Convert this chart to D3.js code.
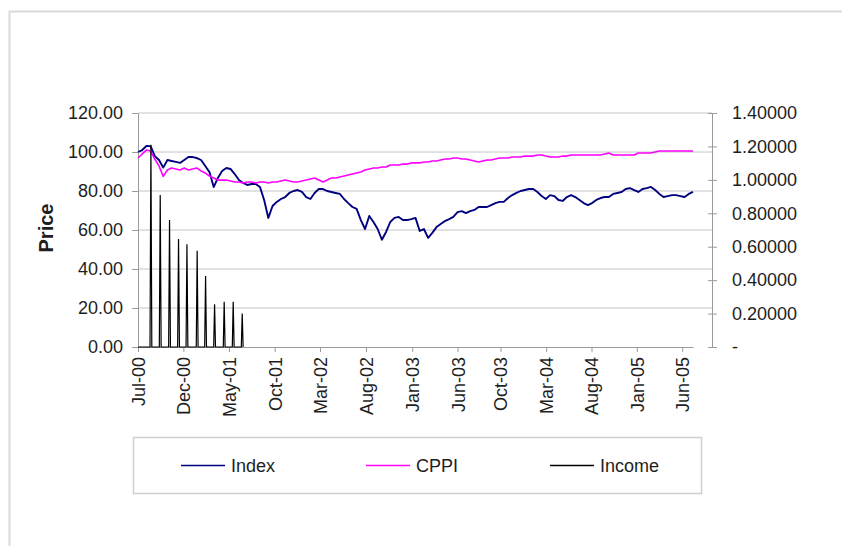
<!DOCTYPE html>
<html>
<head>
<meta charset="utf-8">
<script src="https://cdn.jsdelivr.net/npm/d3@7"></script>
<style>
  body { margin: 0; background: #fff; }
  svg { display: block; font-family: "Liberation Sans", Arial, sans-serif; }
</style>
</head>
<body>
<svg id="chart" width="842" height="546"></svg>
<script>
// fortnightly closes
const startDate = '2000-07-03';
const axisEndDate = '2005-07-25';
const stepDays = 14;

const indexValues = [
  100.0, 101.0, 103.1, 103.0, 97.9, 95.9, 92.0, 95.9, 95.4, 94.9,
  94.4, 95.9, 97.4, 97.4, 96.9, 95.9, 92.8, 89.7, 82.0, 86.7,
  90.3, 91.8, 91.3, 88.7, 85.6, 84.1, 83.1, 83.6, 83.6, 82.1,
  75.4, 66.2, 72.3, 74.4, 75.9, 76.9, 79.0, 80.0, 80.5, 79.5,
  76.9, 75.9, 79.0, 81.0, 81.0, 80.0, 79.5, 79.0, 78.5, 75.9,
  73.8, 71.8, 70.8, 65.1, 60.5, 67.2, 64.1, 60.5, 55.0, 59.0,
  64.1, 66.2, 66.7, 65.1, 65.1, 65.6, 66.2, 59.5, 60.5, 56.0,
  58.5, 61.5, 63.1, 64.6, 65.6, 66.7, 69.2, 69.7, 68.7, 69.7,
  70.3, 71.8, 71.8, 71.8, 72.8, 73.8, 74.4, 74.4, 76.4, 77.9,
  79.0, 80.0, 80.5, 81.0, 81.0, 79.5, 77.4, 75.9, 77.9, 77.4,
  75.4, 74.9, 76.9, 77.9, 76.9, 75.4, 73.8, 72.8, 73.8, 75.4,
  76.4, 76.9, 76.9, 78.5, 79.0, 79.5, 81.0, 81.5, 80.5, 79.5,
  81.0, 81.5, 82.1, 80.5, 78.5, 76.9, 77.4, 77.9, 77.9, 77.4,
  76.9, 78.5, 79.5
];

const cppiValues = [
  96.9, 99.0, 101.0, 100.5, 96.4, 92.8, 87.5, 90.8, 91.8, 91.3,
  90.8, 91.8, 90.8, 91.3, 91.8, 90.3, 89.2, 87.7, 86.7, 85.6,
  85.6, 85.6, 85.1, 84.6, 84.6, 84.1, 84.6, 84.6, 84.1, 84.6,
  84.6, 84.1, 84.6, 84.6, 85.1, 85.6, 85.1, 84.6, 84.6, 85.1,
  85.6, 86.2, 86.7, 85.6, 84.6, 85.6, 86.7, 86.7, 87.2, 87.7,
  88.2, 88.7, 89.2, 89.7, 90.8, 91.3, 91.8, 91.8, 92.3, 92.3,
  93.3, 93.3, 93.3, 93.8, 93.8, 94.4, 94.4, 94.4, 94.9, 94.9,
  95.4, 95.4, 95.9, 96.4, 96.4, 96.9, 96.9, 96.4, 96.4, 95.9,
  95.4, 94.9, 95.4, 95.9, 95.9, 96.4, 96.9, 96.9, 96.9, 97.4,
  97.4, 97.4, 97.9, 97.9, 97.9, 98.5, 98.5, 97.9, 97.4, 97.4,
  97.4, 97.9, 97.9, 98.5, 98.5, 98.5, 98.5, 98.5, 98.5, 98.5,
  98.5, 99.0, 99.5, 98.5, 98.5, 98.5, 98.5, 98.5, 98.5, 99.5,
  99.5, 99.5, 99.5, 100.0, 100.5, 100.5, 100.5, 100.5, 100.5, 100.5,
  100.5, 100.5, 100.5
];

const incomeDates = [
  '2000-08-15', '2000-09-15', '2000-10-16', '2000-11-15', '2000-12-13', '2001-01-16',
  '2001-02-13', '2001-03-15', '2001-04-16', '2001-05-16', '2001-06-15'
];
const incomeValues = [1.21, 0.91, 0.76, 0.646, 0.615, 0.576, 0.425, 0.255, 0.271, 0.271, 0.20];

const tickDates = [
  '2000-07-03', '2000-12-01', '2001-05-02', '2001-10-01', '2002-03-01', '2002-08-01', '2003-01-02',
  '2003-06-02', '2003-10-23', '2004-03-23', '2004-08-21', '2005-01-19', '2005-06-19'
];
const leftTicks = [0, 20, 40, 60, 80, 100, 120];
const rightTicks = [0, 0.2, 0.4, 0.6, 0.8, 1.0, 1.2, 1.4];

const seriesNames = ['Index', 'CPPI', 'Income'];
const seriesColors = ['#000080', '#ff00ff', '#000000'];

const svg = d3.select('#chart');
const parseDate = d3.timeParse('%Y-%m-%d');
const start = parseDate(startDate);

const plot = { left: 138, dataRight: 693, right: 712, top: 113, bottom: 347 };
const font = 18;

// outer chart frame
svg.append('rect')
    .attr('x', 9.5)
    .attr('y', 11.5)
    .attr('width', 850)
    .attr('height', 560)
    .attr('fill', 'none')
    .attr('stroke', '#d9d9d9')
    .attr('stroke-width', 2);

const x = d3.scaleTime()
  .domain([start, parseDate(axisEndDate)])
  .range([plot.left, plot.dataRight]);

const yLeft = d3.scaleLinear()
  .domain([0, 120])
  .range([plot.bottom, plot.top]);

const yRight = d3.scaleLinear()
  .domain([0, 1.4])
  .range([plot.bottom, plot.top]);

// gridlines
svg.append('g')
    .attr('class', 'grid')
  .selectAll('line')
  .data(leftTicks.slice(1))
  .enter()
  .append('line')
    .attr('x1', plot.left)
    .attr('x2', plot.right)
    .attr('y1', d => yLeft(d))
    .attr('y2', d => yLeft(d))
    .attr('stroke', '#c4c4c4')
    .attr('stroke-width', 1);

function styleAxis(g) {
  g.select('.domain').attr('stroke', '#9a9a9a');
  g.selectAll('.tick line').attr('stroke', '#9a9a9a');
  g.selectAll('.tick text')
      .attr('fill', '#1e1e1e')
      .attr('font-size', font)
      .attr('font-family', '"Liberation Sans", Arial, sans-serif');
}

svg.append('g')
    .attr('class', 'axis axis--left')
    .attr('transform', `translate(${plot.left},0)`)
    .call(d3.axisLeft(yLeft)
      .tickValues(leftTicks)
      .tickFormat(d3.format('.2f'))
      .tickSizeInner(6)
      .tickSizeOuter(0)
      .tickPadding(9))
    .call(styleAxis);

const rightAxis = svg.append('g')
    .attr('class', 'axis axis--right')
    .attr('transform', `translate(${plot.right},0)`)
    .call(d3.axisRight(yRight)
      .tickValues(rightTicks)
      .tickFormat(d => (d === 0 ? '-' : d3.format('.5f')(d)))
      .tickSizeInner(5)
      .tickSizeOuter(0)
      .tickPadding(15))
    .call(styleAxis);
rightAxis.selectAll('.tick line').attr('x1', -4);

const xAxis = svg.append('g')
    .attr('class', 'axis axis--x')
    .attr('transform', `translate(0,${plot.bottom})`)
    .call(d3.axisBottom(x)
      .tickValues(tickDates.map(parseDate))
      .tickFormat(d3.timeFormat('%b-%y'))
      .tickSizeInner(5)
      .tickSizeOuter(0))
    .call(styleAxis);

xAxis.selectAll('.tick text')
    .attr('transform', 'rotate(-90)')
    .attr('x', -10)
    .attr('y', 0)
    .attr('dy', '0.36em')
    .attr('text-anchor', 'end');

// axis title
svg.append('text')
    .attr('transform', `translate(53,228) rotate(-90)`)
    .attr('text-anchor', 'middle')
    .attr('font-size', 20)
    .attr('font-weight', 'bold')
    .attr('fill', '#1e1e1e')
    .text('Price');

// series
const indexData = indexValues.map((v, i) => ({ date: d3.timeDay.offset(start, i * stepDays), value: v }));
const cppiData = cppiValues.map((v, i) => ({ date: d3.timeDay.offset(start, i * stepDays), value: v }));

const incomeData = [{ date: start, value: 0 }];
incomeDates.forEach((s, i) => {
  const d = parseDate(s);
  incomeData.push({ date: d3.timeDay.offset(d, -3), value: 0 });
  incomeData.push({ date: d, value: incomeValues[i] });
  incomeData.push({ date: d3.timeDay.offset(d, 3), value: 0 });
});

const priceLine = d3.line()
  .x(d => x(d.date))
  .y(d => yLeft(d.value));

const incomeLine = d3.line()
  .x(d => x(d.date))
  .y(d => yRight(d.value));

svg.append('path')
    .datum(indexData)
    .attr('fill', 'none')
    .attr('stroke', seriesColors[0])
    .attr('stroke-width', 1.9)
    .attr('stroke-linejoin', 'round')
    .attr('d', priceLine);

svg.append('path')
    .datum(cppiData)
    .attr('fill', 'none')
    .attr('stroke', seriesColors[1])
    .attr('stroke-width', 1.6)
    .attr('stroke-linejoin', 'round')
    .attr('d', priceLine);

svg.append('path')
    .datum(incomeData)
    .attr('fill', 'none')
    .attr('stroke', seriesColors[2])
    .attr('stroke-width', 1.2)
    .attr('d', incomeLine);

// legend
const legendBox = { x: 133.5, y: 437.5, w: 568, h: 56 };
svg.append('rect')
    .attr('x', legendBox.x)
    .attr('y', legendBox.y)
    .attr('width', legendBox.w)
    .attr('height', legendBox.h)
    .attr('fill', '#fff')
    .attr('stroke', '#cfcfcf')
    .attr('stroke-width', 1.5);

const legendX = [181, 366, 550];
const legend = svg.append('g')
  .selectAll('.legend')
  .data(seriesNames)
  .enter()
  .append('g')
    .attr('class', 'legend')
    .attr('transform', (d, i) => `translate(${legendX[i]},${legendBox.y + legendBox.h / 2})`);

legend.append('line')
    .attr('x1', 0)
    .attr('x2', 44)
    .attr('stroke', (d, i) => seriesColors[i])
    .attr('stroke-width', 1.5);

legend.append('text')
    .attr('x', 50)
    .attr('dy', '0.35em')
    .attr('font-size', font)
    .attr('fill', '#1e1e1e')
    .attr('font-family', '"Liberation Sans", Arial, sans-serif')
    .text(d => d);
</script>
</body>
</html>
